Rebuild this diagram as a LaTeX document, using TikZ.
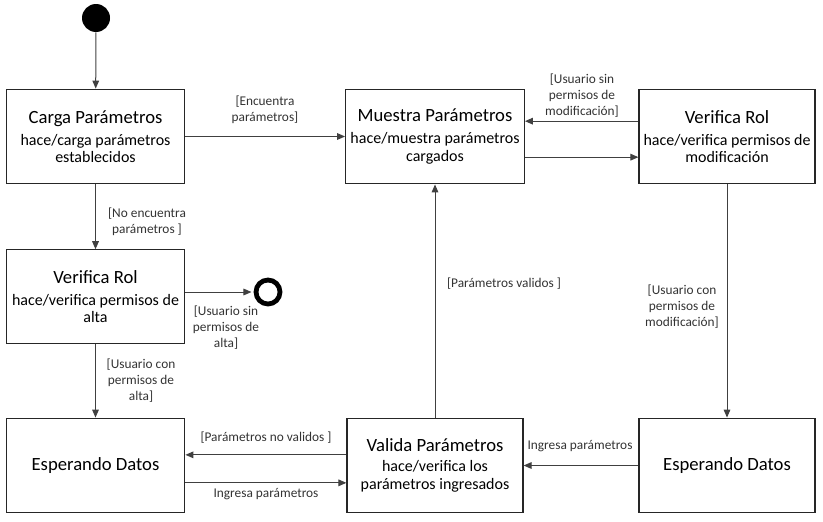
\documentclass[tikz,border=0pt]{standalone}
\usepackage{fontspec}
\setmainfont{Carlito}
\usetikzlibrary{arrows.meta}

\newcommand\titulo[1]{{\fontsize{14}{16}\selectfont #1}}

\begin{document}
\begin{tikzpicture}[x=0.75pt,y=-0.75pt,
  estado/.style={draw=black!85,line width=0.9pt,minimum width=134pt,minimum height=71pt,
    inner sep=0pt,align=center,font=\fontsize{12}{13}\selectfont},
  guarda/.style={align=center,font=\fontsize{10}{12}\selectfont,text=black!80,inner sep=0pt},
  flecha/.style={draw=black!75,line width=0.75pt,-{Triangle[length=6pt,width=5pt]}}]
  \useasboundingbox (0,0) rectangle (823,521);
  % estados
  \node[circle,fill=black,minimum size=21pt,inner sep=0pt] (Ini) at (96,18) {};
  \node[circle,draw=black,line width=3.6pt,minimum size=18pt,inner sep=0pt] (Fin) at (268,292) {};
  \node[estado] (Carga) at (95.5,136.5) {\titulo{Carga Parámetros}\\[3.5pt] hace/carga parámetros\\ establecidos};
  \node[estado] (Muestra) at (435,136.5) {\titulo{Muestra Parámetros}\\[3.5pt] hace/muestra parámetros\\ cargados};
  \node[estado,minimum width=132pt] (RolM) at (727,136.5) {\titulo{Verifica Rol}\\[3.5pt] hace/verifica permisos de\\ modificación};
  \node[estado,minimum height=70pt] (RolA) at (95.5,296.5) {\titulo{Verifica Rol}\\[3.5pt] hace/verifica permisos de\\ alta};
  \node[estado] (EspA) at (95.5,465.5) {\titulo{Esperando Datos}};
  \node[estado,minimum width=132pt] (Valida) at (435,465.5) {\titulo{Valida Parámetros}\\[2pt] hace/verifica los\\ parámetros ingresados};
  \node[estado,minimum width=132pt] (EspB) at (727,465.5) {\titulo{Esperando Datos}};
  % guardas
  \node[guarda] (L1) at (265,110) {[Encuentra\\ parámetros]};
  \node[guarda] (L2) at (147,222) {[No encuentra\\ parámetros ]};
  \node[guarda] (L3) at (226,328) {[Usuario sin\\ permisos de\\ alta]};
  \node[guarda] (L4) at (141,381) {[Usuario con\\ permisos de\\ alta]};
  \node[guarda] (L5) at (266,438) {[Parámetros no validos ]};
  \node[guarda] (L6) at (266,494) {Ingresa parámetros};
  \node[guarda] (L7) at (504,284) {[Parámetros validos ]};
  \node[guarda] (L8) at (682,307) {[Usuario con\\ permisos de\\ modificación]};
  \node[guarda] (L9) at (580,446) {Ingresa parámetros};
  \node[guarda] (L10) at (582,96) {[Usuario sin\\ permisos de\\ modificación]};
  % transiciones
  \draw[flecha] (Ini) -- (Carga);
  \draw[flecha] (Carga) -- (Muestra);
  \draw[flecha] (Carga) -- (RolA);
  \draw[flecha,shorten >=1.6pt] (RolA.east |- Fin) -- (Fin);
  \draw[flecha] (RolA) -- (EspA);
  \draw[flecha] ([yshift=-13pt]EspA.east) -- ([yshift=-13pt]Valida.west);
  \draw[flecha] ([yshift=8pt]Valida.west) -- ([yshift=8pt]EspA.east);
  \draw[flecha] (EspB) -- (Valida);
  \draw[flecha] (Valida) -- (Muestra);
  \draw[flecha] ([yshift=11.5pt]RolM.west) -- ([yshift=11.5pt]Muestra.east);
  \draw[flecha] ([yshift=-15.5pt]Muestra.east) -- ([yshift=-15.5pt]RolM.west);
  \draw[flecha] (RolM) -- (EspB);
\end{tikzpicture}
\end{document}
